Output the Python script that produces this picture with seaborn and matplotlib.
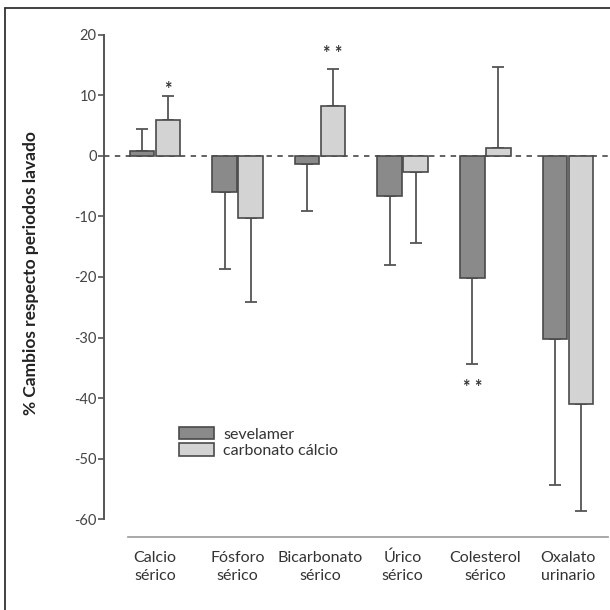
import matplotlib
matplotlib.use("Agg")
import matplotlib.pyplot as plt
import seaborn as sns
import pandas as pd
from matplotlib.lines import Line2D

categories = ["Calcio\nsérico", "Fósforo\nsérico", "Bicarbonato\nsérico",
              "Úrico\nsérico", "Colesterol\nsérico", "Oxalato\nurinario"]
groups = ["sevelamer", "carbonato cálcio"]
sevelamer = [0.8, -6.0, -1.3, -6.6, -20.2, -30.3]
carbonato = [6.0, -10.2, 8.3, -2.7, 1.3, -41.0]
sev_err = [3.6, 12.7, 7.8, 11.4, 14.2, 24.1]
carb_err = [3.9, 13.9, 6.1, 11.7, 13.4, 17.7]
# (group index, category index, label, y position)
signif = [(1, 0, "*", 11.0), (1, 2, "* *", 16.9), (0, 4, "* *", -38.3)]
yticks = [20, 10, 0, -10, -20, -30, -40, -50, -60]

df = pd.DataFrame({
    "cat": categories * 2,
    "val": sevelamer + carbonato,
    "grupo": [groups[0]] * 6 + [groups[1]] * 6,
})

sns.set_style("white")
plt.rcParams["font.family"] = ["Lato", "DejaVu Sans"]

fig = plt.figure(figsize=(6.1, 6.1), dpi=100)
ax = fig.add_axes([0.170, 0.119, 0.826, 0.834])

sns.barplot(data=df, x="cat", y="val", hue="grupo", palette=["#8a8a8a", "#d3d3d3"],
            width=0.63, gap=0.05, edgecolor="#4a4a4a", linewidth=1.2,
            errorbar=None, ax=ax, zorder=3)
bar_sets = list(ax.containers)

ax.axhline(0, color="#555555", lw=1.3, ls=(0, (3, 3)), zorder=1)

errs = [sev_err, carb_err]
for gi, cont in enumerate(bar_sets):
    for ci, bar in enumerate(cont):
        x = bar.get_x() + bar.get_width() / 2
        v = bar.get_height()
        e = errs[gi][ci]
        lo, hi = (e, 0) if v < 0 else (0, e)
        ax.errorbar(x, v, yerr=[[lo], [hi]], fmt="none", ecolor="#555555",
                    elinewidth=1.3, capsize=4.5, capthick=1.3, zorder=2)

for gi, ci, lab, y in signif:
    bar = bar_sets[gi][ci]
    x = bar.get_x() + bar.get_width() / 2
    ax.text(x, y, lab, ha="center", va="center", fontsize=13, color="#333333",
            fontweight="bold")

ax.set_xlim(-0.62, 5.48)
ax.set_ylim(-63, 21)
ax.set_yticks(yticks)
ax.set_yticklabels([str(t) for t in yticks], fontsize=10.5, color="#444444")
ax.tick_params(axis="y", length=4, width=1.2, color="#555555", left=True, pad=1)
ax.tick_params(axis="x", length=0, pad=31, labelsize=11.5, labelcolor="#333333")
for lbl in ax.get_xticklabels():
    lbl.set_linespacing(1.4)
    lbl.set_verticalalignment("baseline")

ax.set_xlabel("")
ax.set_ylabel("% Cambios respecto periodos lavado", fontsize=12.5, fontweight="bold",
              color="#222222")
ax.yaxis.set_label_coords(-0.128, 0.52)

for s in ["top", "right"]:
    ax.spines[s].set_visible(False)
ax.spines["left"].set_bounds(-60, 20)
ax.spines["left"].set_color("#555555")
ax.spines["left"].set_linewidth(1.4)
ax.spines["bottom"].set_bounds(-0.33, 5.48)
ax.spines["bottom"].set_color("#999999")
ax.spines["bottom"].set_linewidth(1.2)

ax.legend(loc="upper left", bbox_to_anchor=(0.12, 0.245), frameon=False,
          fontsize=11.5, handlelength=2.2, handleheight=0.8, handletextpad=0.6,
          labelspacing=0.1, labelcolor="#333333")

# frame round the picture
fig.add_artist(Line2D([0.008, 0.008], [0, 0.987], transform=fig.transFigure,
                      color="#333333", lw=1.3))
fig.add_artist(Line2D([0.008, 1], [0.987, 0.987], transform=fig.transFigure,
                      color="#333333", lw=1.3))

fig.savefig("out.png", dpi=100)
